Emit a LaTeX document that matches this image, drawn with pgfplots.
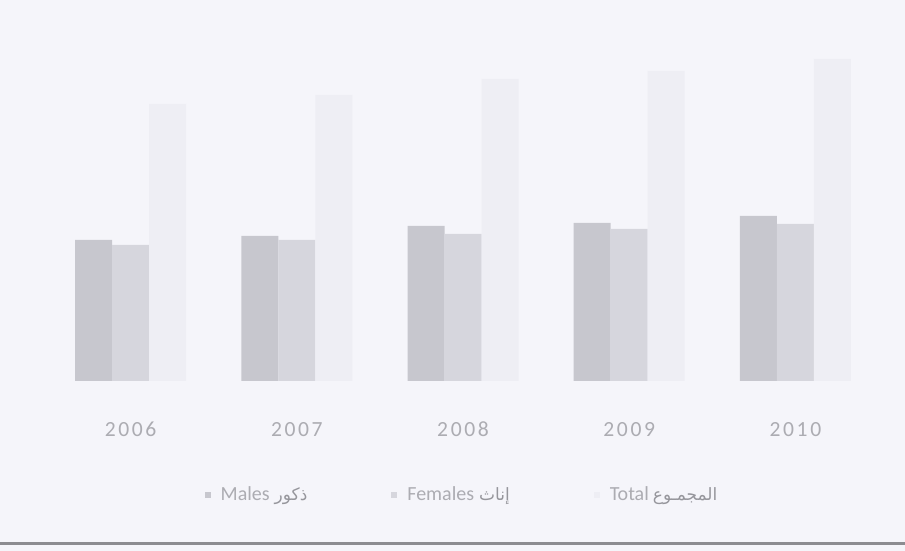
\documentclass[border=0pt]{standalone}
\usepackage{fontspec}
\setmainfont{Carlito}
\newfontfamily\arabicfont[Script=Arabic]{DejaVu Sans}
\newfontfamily\yearfont[LetterSpace=12]{Carlito}
\TeXXeTstate=1
\usepackage{pgfplots}
\pgfplotsset{compat=1.18}
\definecolor{bg}{RGB}{245,245,250}
\definecolor{cm}{RGB}{199,199,206}
\definecolor{cf}{RGB}{214,214,221}
\definecolor{ct}{RGB}{238,238,244}
\definecolor{txt}{RGB}{172,172,178}
\definecolor{atxt}{RGB}{150,150,156}
\definecolor{ln}{RGB}{140,140,145}
\newcommand{\ar}[1]{{\arabicfont\fontsize{8.5}{10}\selectfont\color{atxt}\beginR #1\endR}}
\begin{document}
\begin{tikzpicture}
\fill[bg] (0pt,0pt) rectangle (452.5pt,275.5pt);
\fill[ln] (0pt,3.2pt) rectangle (452.5pt,4.6pt);
\begin{axis}[
  at={(23.75pt,85pt)}, anchor=south west,
  scale only axis, width=415.5pt, height=170pt,
  ybar=0pt, bar width=18.5pt,
  xmin=-0.5, xmax=4.5, ymin=0, ymax=340,
  axis line style={draw=none},
  major tick length=0pt,
  ytick=\empty,
  xtick=data,
  xticklabels={2006,2007,2008,2009,2010},
  xticklabel style={font=\yearfont\fontsize{10.8}{12}\selectfont, text=txt, yshift=-17pt},
  legend style={draw=none, fill=none, at={(0.5,-0.335)}, anchor=center,
    legend columns=3, font=\fontsize{10}{12}\selectfont, text=txt,
    /tikz/every odd column/.append style={column sep=3pt},
    /tikz/every even column/.append style={column sep=40pt}},
  legend image code/.code={\fill[#1] (0pt,-1.5pt) rectangle (3pt,1.5pt);},
]
\addplot[fill=cm, draw=none] coordinates {(0,141) (1,145) (2,155) (3,158) (4,165)};
\addplot[fill=cf, draw=none] coordinates {(0,136) (1,141) (2,147) (3,152) (4,157)};
\addplot[fill=ct, draw=none] coordinates {(0,277) (1,286) (2,302) (3,310) (4,322)};
\legend{Males\hspace{2.5pt}\ar{ذكور},Females\hspace{2.5pt}\ar{إناث},Total\hspace{2pt}\ar{المجمـوع}}
\end{axis}
\end{tikzpicture}
\end{document}
